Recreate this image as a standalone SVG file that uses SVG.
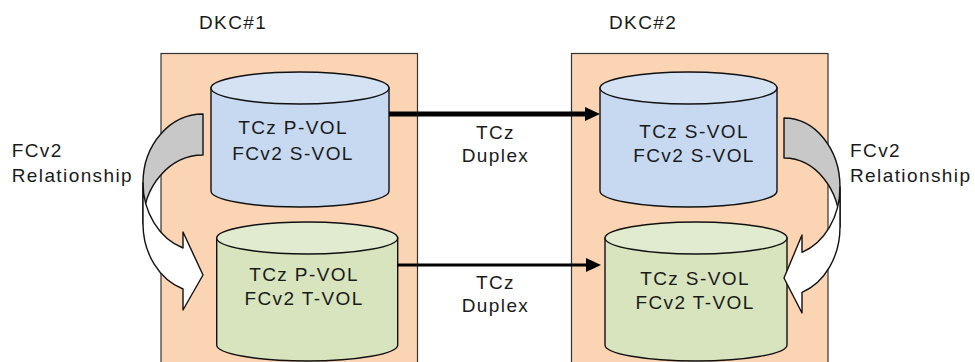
<svg xmlns="http://www.w3.org/2000/svg" width="975" height="362" viewBox="0 0 975 362">
  <style>
    .lbl { font-family: "Liberation Sans", Arial, sans-serif; font-size: 19px; letter-spacing: 1.4px; fill: #1a1a1a; }
    .mid { text-anchor: middle; }
    .box { fill: #FBD4B4; stroke: #333; stroke-width: 1.2; }
    .cyl { stroke: #111; stroke-width: 1.4; }
    .blueBody { fill: #C6D9F1; }
    .blueTop { fill: #D4E2F4; }
    .greenBody { fill: #D7E4BD; }
    .greenTop { fill: #E0EBCF; }
    .back { fill: #C8C8C8; stroke: #111; stroke-width: 1.4; stroke-linejoin: round; }
    .front { fill: #FFFFFF; stroke: #111; stroke-width: 1.4; stroke-linejoin: round; }
    .conn { stroke: #000; fill: none; }
  </style>
  <defs>
    <marker id="head" markerUnits="userSpaceOnUse" markerWidth="16" markerHeight="14" refX="0" refY="7" orient="auto">
      <path d="M0,0 L15,7 L0,14 Z" fill="#000"/>
    </marker>
  </defs>

  <rect width="975" height="362" fill="#FFFFFF"/>

  <g id="dkc1">
    <rect class="box" x="161" y="53.5" width="256.5" height="320"/>
    <text class="lbl" x="199" y="29.3">DKC#1</text>
  </g>
  <g id="dkc2">
    <rect class="box" x="571.5" y="53.5" width="256.5" height="320"/>
    <text class="lbl" x="609" y="29.3">DKC#2</text>
  </g>

  <g id="vol-l-upper">
    <path class="cyl blueBody" d="M211 88 L211 191 A89 16 0 0 0 389 191 L389 88 Z"/>
    <ellipse class="cyl blueTop" cx="300" cy="88" rx="89" ry="16"/>
    <text class="lbl mid" x="293" y="134">TCz P-VOL</text>
    <text class="lbl mid" x="293" y="160">FCv2 S-VOL</text>
  </g>
  <g id="vol-l-lower">
    <path class="cyl greenBody" d="M216.7 238 L216.7 345 A90.5 16 0 0 0 397.7 345 L397.7 238 Z"/>
    <ellipse class="cyl greenTop" cx="307.2" cy="238" rx="90.5" ry="16"/>
    <text class="lbl mid" x="304" y="281">TCz P-VOL</text>
    <text class="lbl mid" x="304" y="305">FCv2 T-VOL</text>
  </g>
  <g id="vol-r-upper">
    <path class="cyl blueBody" d="M600 88 L600 191 A88.5 16 0 0 0 777 191 L777 88 Z"/>
    <ellipse class="cyl blueTop" cx="688.5" cy="88" rx="88.5" ry="16"/>
    <text class="lbl mid" x="694" y="138">TCz S-VOL</text>
    <text class="lbl mid" x="694" y="162">FCv2 S-VOL</text>
  </g>
  <g id="vol-r-lower">
    <path class="cyl greenBody" d="M605 238 L605 345 A91 16 0 0 0 787 345 L787 238 Z"/>
    <ellipse class="cyl greenTop" cx="696" cy="238" rx="91" ry="16"/>
    <text class="lbl mid" x="695" y="285">TCz S-VOL</text>
    <text class="lbl mid" x="695" y="309">FCv2 T-VOL</text>
  </g>

  <g id="rel-left">
    <path class="back" d="M203 114 A60 69 0 0 0 143 183 L143 224 A60 69 0 0 1 203 155 Z"/>
    <path class="front" d="M143 183 A60 69 0 0 0 183 248 L183 232 L203 275 L183 310 L183 289 A60 69 0 0 1 143 224 Z"/>
    <text class="lbl" x="11.7" y="157.3">FCv2</text>
    <text class="lbl" x="11.7" y="181.7">Relationship</text>
  </g>
  <g id="rel-right">
    <path class="back" d="M784 118 A56 69 0 0 1 840 187 L840 227 A56 69 0 0 0 784 158 Z"/>
    <path class="front" d="M840 187 A56 69 0 0 1 802 252.3 L802 235 L784 278 L802 313 L802 292.3 A56 69 0 0 0 840 227 Z"/>
    <text class="lbl" x="850" y="157.3">FCv2</text>
    <text class="lbl" x="850" y="181.7">Relationship</text>
  </g>

  <g id="connectors">
    <line class="conn" x1="389" y1="114" x2="585" y2="114" stroke-width="5" marker-end="url(#head)"/>
    <line class="conn" x1="397.7" y1="265" x2="586" y2="265" stroke-width="3" marker-end="url(#head)"/>
    <text class="lbl mid" x="495.5" y="139">TCz</text>
    <text class="lbl mid" x="495.5" y="162">Duplex</text>
    <text class="lbl mid" x="495.5" y="289">TCz</text>
    <text class="lbl mid" x="495.5" y="312">Duplex</text>
  </g>
</svg>
